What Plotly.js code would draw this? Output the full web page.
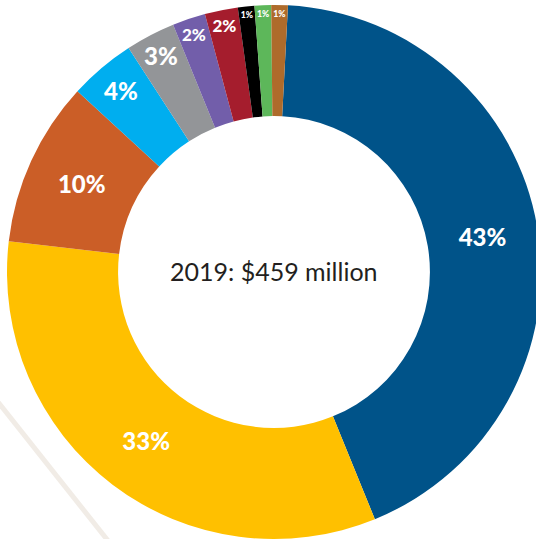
<!DOCTYPE html>
<html>
<head>
<meta charset="utf-8">
<script src="https://cdn.plot.ly/plotly-3.0.1.min.js"></script>
<style>
  html, body { margin: 0; padding: 0; width: 536px; height: 539px; overflow: hidden; background: #ffffff; }
  #chart { position: absolute; left: 0; top: 0; width: 541px; height: 539px; }
</style>
</head>
<body>
<div id="chart"></div>
<script>
// Share of 2019 total ($459 million), in percent
const categories = ["Segment A", "Segment B", "Segment C", "Segment D", "Segment E",
                    "Segment F", "Segment G", "Segment H", "Segment I", "Segment J"];
const shares = [43, 33, 10, 4, 3, 2, 2, 1, 1, 1];
const sliceColors = ["#005389", "#FFC000", "#CB5E27", "#00AEEF", "#939598",
                     "#725EAA", "#A51D2D", "#000000", "#5DB75A", "#AE6B2B"];
const centerLabel = "2019: $459 million";

const W = 541, H = 539;

const trace = {
  type: "pie",
  labels: categories,
  values: shares,
  sort: false,
  direction: "clockwise",
  rotation: 3,
  hole: 0.584,
  marker: { colors: sliceColors, line: { width: 0 } },
  textinfo: "percent",
  texttemplate: "%{percent:.0%}",
  textposition: "inside",
  insidetextorientation: "horizontal",
  insidetextfont: { family: "Lato, 'Open Sans', sans-serif", size: 24, color: "#ffffff", weight: 900 },
  showlegend: false,
  hoverinfo: "none",
  domain: { x: [7 / W, 1], y: [0, 534 / H] }
};

const layout = {
  width: W,
  height: H,
  margin: { l: 0, r: 0, t: 0, b: 0, pad: 0 },
  paper_bgcolor: "rgba(0,0,0,0)",
  plot_bgcolor: "rgba(0,0,0,0)",
  showlegend: false,
  shapes: [
    { type: "line", xref: "paper", yref: "paper", x0: -0.01, y0: 0.262, x1: 0.205, y1: -0.01,
      line: { color: "#F1ECE6", width: 5 }, layer: "below" }
  ],
  annotations: [
    { text: centerLabel, xref: "paper", yref: "paper", x: 274 / W, y: 1 - 271 / H, showarrow: false,
      font: { family: "Lato, 'Open Sans', sans-serif", size: 25, color: "#231F20", weight: 400 } }
  ]
};

Plotly.newPlot("chart", [trace], layout, { displayModeBar: false, staticPlot: true });
</script>
</body>
</html>
